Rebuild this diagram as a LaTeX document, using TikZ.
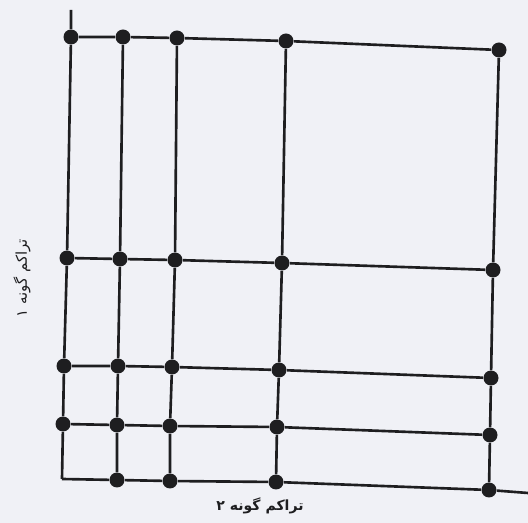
\documentclass[tikz,border=0pt]{standalone}
\usepackage{fontspec}
\usepackage{tikz}
\usetikzlibrary{positioning}
\TeXXeTstate=1
\newfontfamily\arabicfont[Script=Arabic]{DejaVu Sans}
\definecolor{paper}{RGB}{240,241,246}
\definecolor{ink}{RGB}{30,30,32}
\tikzset{
    dot/.style={circle, fill=ink, inner sep=0pt, minimum size=0.3cm},
    gridline/.style={draw=ink, line width=1.5pt},
    axislabel/.style={font=\arabicfont\fontsize{8.5}{10}\selectfont, text=ink}
}

\begin{document}
\begin{tikzpicture}[x=0.02cm, y=-0.02cm]
    % Fondo
    \useasboundingbox[fill=paper] (0,0) rectangle (528,523);

    % Punti della griglia (righe r1..r5, colonne c1..c5)
    \foreach \name/\px/\py in {r1c1/71/37, r1c2/123/37, r1c3/177/38, r1c4/286/41, r1c5/499/50,
                             r2c1/67/258, r2c2/120/259, r2c3/175/260, r2c4/282/263, r2c5/493/270,
                             r3c1/64/366, r3c2/118/366, r3c3/172/367, r3c4/279/370, r3c5/491/378,
                             r4c1/63/424, r4c2/117/425, r4c3/170/426, r4c4/277/427, r4c5/490/435,
                             r5c2/117/480, r5c3/170/481, r5c4/276/482, r5c5/489/490} {
        \node[dot] (\name) at (\px,\py) {};
    }
    \coordinate (r5c1) at (62,479); % Angolo senza punto
    \coordinate (topend) at (71,10);
    \coordinate (rightend) at (528,493);

    % Linee orizzontali
    \foreach \r in {1,2,3,4} {
        \draw[gridline] (r\r c1) -- (r\r c2) -- (r\r c3) -- (r\r c4) -- (r\r c5);
    }
    \draw[gridline] (r5c1) -- (r5c2) -- (r5c3) -- (r5c4) -- (r5c5) -- (rightend);

    % Linee verticali
    \draw[gridline] (topend) -- (r1c1) -- (r2c1) -- (r3c1) -- (r4c1) -- (r5c1);
    \foreach \c in {2,3,4,5} {
        \draw[gridline] (r1c\c) -- (r2c\c) -- (r3c\c) -- (r4c\c) -- (r5c\c);
    }

    % Etichette
    \node[axislabel, rotate=90] (label1) at (22,278) {\beginR تراکم گونه ۱\endR};
    \node[axislabel, font=\arabicfont\bfseries\fontsize{8}{10}\selectfont] (label2) at (260,506) {\beginR تراکم گونه ۲\endR};
\end{tikzpicture}
\end{document}
